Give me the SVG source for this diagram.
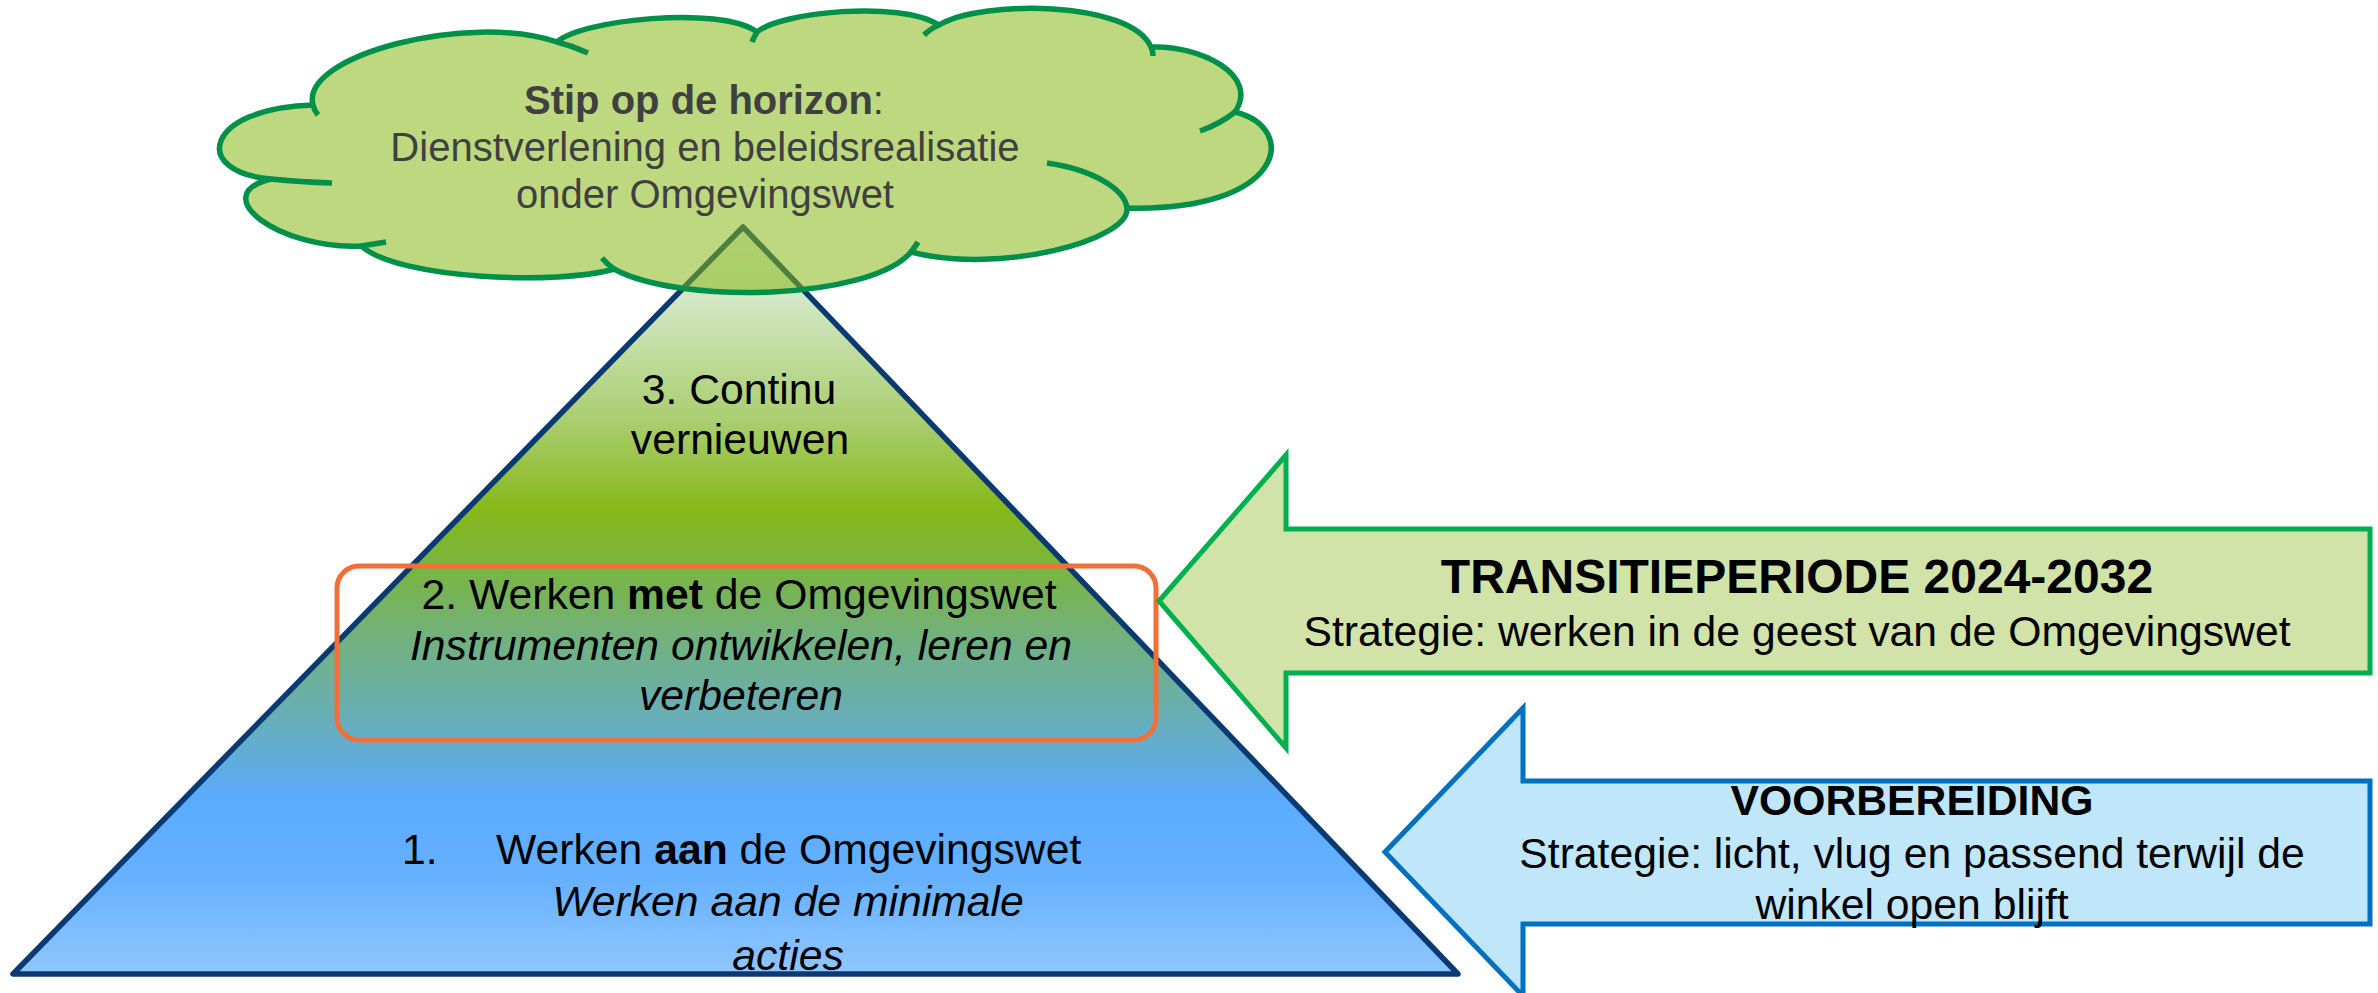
<svg xmlns="http://www.w3.org/2000/svg" width="2378" height="993" viewBox="0 0 2378 993">
<style>
text{font-family:"Liberation Sans",Arial,Helvetica,sans-serif;}
.t{font-size:42.7px;fill:#000;text-anchor:middle;}
.ts{font-size:42.7px;fill:#000;}
.c{font-size:40px;fill:#404040;text-anchor:middle;}
.b{font-weight:bold;}
.i{font-style:italic;}
.tail{fill:none;stroke:#00904A;stroke-width:5.5;stroke-linecap:butt;}
</style>
<defs>
<linearGradient id="pyr" gradientUnits="userSpaceOnUse" x1="0" y1="227" x2="0" y2="974">
<stop offset="0" stop-color="#DCEDD8"/>
<stop offset="0.098" stop-color="#D2E7C4"/>
<stop offset="0.258" stop-color="#AACE70"/>
<stop offset="0.378" stop-color="#86B81A"/>
<stop offset="0.445" stop-color="#7CB53A"/>
<stop offset="0.552" stop-color="#72B17E"/>
<stop offset="0.659" stop-color="#68AEB8"/>
<stop offset="0.767" stop-color="#5AABFF"/>
<stop offset="0.874" stop-color="#66B1FF"/>
<stop offset="1" stop-color="#90C6FF"/>
</linearGradient>
</defs>
<rect width="2378" height="993" fill="#FFFFFF"/>

<g id="pyramid">
<polygon points="743,227 13,974 1458,974" fill="url(#pyr)" stroke="#0B3A72" stroke-width="5.5" stroke-linejoin="round"/>
</g>

<g id="level3">
<text class="t" x="739" y="404">3. Continu</text>
<text class="t" x="740" y="454">vernieuwen</text>
</g>

<g id="level2">
<rect x="337" y="566" width="819" height="174" rx="22" ry="22" fill="none" stroke="#F07038" stroke-width="5"/>
<text class="t" x="739" y="609">2. Werken <tspan class="b">met</tspan> de Omgevingswet</text>
<text class="t i" x="741" y="660">Instrumenten ontwikkelen, leren en</text>
<text class="t i" x="741" y="710">verbeteren</text>
</g>

<g id="level1">
<text class="ts" x="402" y="864">1.</text>
<text class="ts" x="496" y="864">Werken <tspan class="b">aan</tspan> de Omgevingswet</text>
<text class="t i" x="788" y="916">Werken aan de minimale</text>
<text class="t i" x="788" y="970">acties</text>
</g>

<g id="cloud">
<path d="M313,105 C300,55 470,12 557,42 C580,20 720,5 757,32 C780,12 900,0 939,25 C980,0 1130,0 1151,47 C1200,45 1260,75 1235,112 C1300,128 1285,212 1127,208 C1130,240 1000,275 911,252 C870,300 680,305 614,269 C560,285 400,280 361,246 C280,250 205,195 271,179 C190,172 205,108 313,105 Z" fill="#88B818" fill-opacity="0.55" stroke="#00904A" stroke-width="5.5" stroke-linejoin="round"/>
<path class="tail" d="M313,105 Q314,110 318,115"/>
<path class="tail" d="M557,42 Q573,46 588,53"/>
<path class="tail" d="M757,32 Q754,37 752,42"/>
<path class="tail" d="M939,25 Q930,29 924,35"/>
<path class="tail" d="M1151,47 Q1153,51 1153,56"/>
<path class="tail" d="M1235,112 Q1220,124 1200,131"/>
<path class="tail" d="M1127,208 C1125,190 1095,170 1047,163"/>
<path class="tail" d="M911,252 Q915,247 918,242"/>
<path class="tail" d="M614,269 Q607,264 602,258"/>
<path class="tail" d="M361,246 Q374,244 386,242"/>
<path class="tail" d="M271,179 Q300,182 332,183"/>
<text class="c" x="704" y="114"><tspan class="b">Stip op de horizon</tspan>:</text>
<text class="c" x="705" y="161">Dienstverlening en beleidsrealisatie</text>
<text class="c" x="705" y="208">onder Omgevingswet</text>
</g>

<g id="transitie-arrow">
<polygon points="1159,601 1286,455 1286,529 2370,529 2370,673 1286,673 1286,748" fill="#D1E3A8" stroke="#00B050" stroke-width="5" stroke-linejoin="miter"/>
<text class="t b" x="1797" y="593" style="font-size:48px">TRANSITIEPERIODE 2024-2032</text>
<text class="t" x="1797" y="646">Strategie: werken in de geest van de Omgevingswet</text>
</g>

<g id="voorbereiding-arrow">
<polygon points="1385,852 1523,708 1523,781 2370,781 2370,924 1523,924 1523,996" fill="#C0E6F9" stroke="#0070C0" stroke-width="5" stroke-linejoin="miter"/>
<text class="t b" x="1912" y="815">VOORBEREIDING</text>
<text class="t" x="1912" y="868">Strategie: licht, vlug en passend terwijl de</text>
<text class="t" x="1912" y="919">winkel open blijft</text>
</g>

<g id="connectors"/>
</svg>
